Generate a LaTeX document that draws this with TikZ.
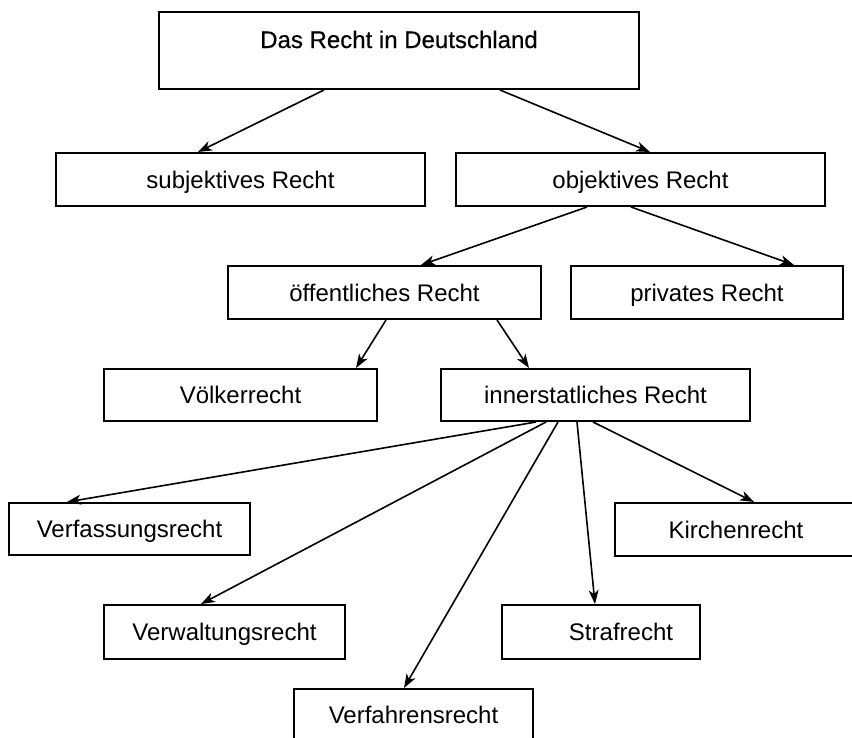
\documentclass[tikz,border=0pt]{standalone}
\usepackage{fontspec}
\setmainfont{Liberation Sans}
\newfontfamily\titlefont[FakeBold=0.5]{Liberation Sans}
\usetikzlibrary{arrows.meta}
\tikzset{
  box/.style={draw, line width=2pt, inner xsep=0pt, inner ysep=0pt,
    text height=17pt, text depth=0pt, font=\fontsize{24}{28}\selectfont},
  conn/.style={line width=1.6pt, -{Stealth[length=14pt,width=10pt,inset=4pt]}}
}
\begin{document}
\begin{tikzpicture}[x=1pt,y=-1pt]
\useasboundingbox (0,0) rectangle (852,737);
\clip (0,0) rectangle (852,737);
% boxes
\node[draw, line width=2pt, inner xsep=0pt, inner ysep=0pt, minimum width=480pt,
  text height=36pt, text depth=41pt, font=\titlefont\fontsize{24}{30}\selectfont] (top) at (399,50.5) {Das Recht in Deutschland};
\node[box, minimum width=369pt, minimum height=53pt] (subj) at (240.5,179.5) {subjektives Recht};
\node[box, minimum width=369pt, minimum height=53pt] (obj) at (640.5,179.5) {objektives Recht};
\node[box, minimum width=313pt, minimum height=53pt] (oeff) at (384.5,292.5) {öffentliches Recht};
\node[box, minimum width=272pt, minimum height=53pt] (priv) at (707,292.5) {privates Recht};
\node[box, minimum width=273pt, minimum height=52pt] (voelk) at (240.5,395) {Völkerrecht};
\node[box, minimum width=309pt, minimum height=52pt] (inner) at (595.5,395) {innerstatliches Recht};
\node[box, minimum width=241pt, minimum height=52pt] (verfass) at (129.5,529) {Verfassungsrecht};
\node[box, minimum width=242pt, minimum height=53pt] (kirchen) at (736,529.5) {Kirchenrecht};
\node[box, minimum width=241pt, minimum height=54pt] (verwalt) at (224.5,632) {Verwaltungsrecht};
\node[box, minimum width=198pt, minimum height=54pt] (straf) at (601,632) {\hspace*{40pt}Strafrecht};
\node[box, minimum width=239pt, minimum height=52pt] (verfahr) at (413.5,715) {Verfahrensrecht};
% connectors
\draw[conn] ([xshift=166pt]top.south west) -- ([xshift=143pt]subj.north west);
\draw[conn] ([xshift=342pt]top.south west) -- ([xshift=195pt]obj.north west);
\draw[conn] ([xshift=132pt]obj.south west) -- ([xshift=194pt]oeff.north west);
\draw[conn] ([xshift=176pt]obj.south west) -- ([xshift=224pt]priv.north west);
\draw[conn] ([xshift=159pt]oeff.south west) -- ([xshift=253pt]voelk.north west);
\draw[conn] ([xshift=270pt]oeff.south west) -- ([xshift=89pt]inner.north west);
\draw[conn] ([xshift=96pt]inner.south west) -- ([xshift=59pt]verfass.north west);
\draw[conn] ([xshift=106pt]inner.south west) -- ([xshift=98pt]verwalt.north west);
\draw[conn] ([xshift=118pt]inner.south west) -- ([xshift=111pt]verfahr.north west);
\draw[conn] ([xshift=137pt]inner.south west) -- ([xshift=94pt]straf.north west);
\draw[conn] ([xshift=153pt]inner.south west) -- ([xshift=140pt]kirchen.north west);
\end{tikzpicture}
\end{document}
